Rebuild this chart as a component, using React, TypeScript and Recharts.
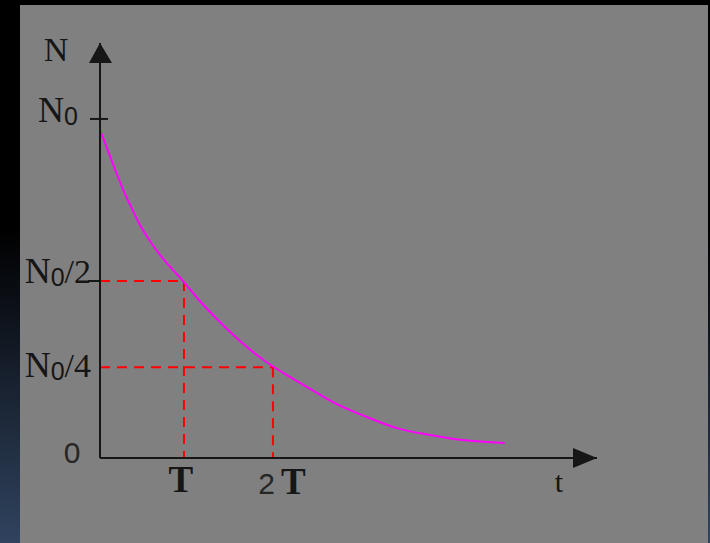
import React from 'react'
import {
  LineChart,
  Line,
  XAxis,
  YAxis,
  ReferenceLine,
  ReferenceDot
} from 'recharts'

// decay curve, t in units of T (approx), N in units of N0
const timeValues = [
  0, 0.095, 0.19, 0.286, 0.381, 0.476, 0.595, 0.714, 0.857, 1.0, 1.167, 1.405,
  1.667, 1.964, 2.262, 2.524, 2.774, 3.179, 3.536, 3.929, 4.321, 4.821
]
const countValues = [
  0.968, 0.906, 0.844, 0.785, 0.735, 0.687, 0.64, 0.599, 0.558, 0.519, 0.469,
  0.407, 0.345, 0.286, 0.239, 0.201, 0.165, 0.121, 0.088, 0.068, 0.053, 0.044
]

const halfLife = 1
const twoHalfLives = 2.06
const fullCount = 1
const halfCount = 0.522
const quarterCount = 0.268

const xTicks = [halfLife, twoHalfLives]
const yTicks = [0, quarterCount, halfCount, fullCount]
const xMax = 5.92
const yMax = 1.224

const data = timeValues.map((t, i) => ({ t, n: countValues[i] }))

const serif = '"Liberation Serif", serif'
const sans = '"Liberation Sans", sans-serif'
const ink = '#161616'

function NTick(props: any) {
  const { x, y, payload } = props
  const v = payload.value
  if (v === 0) {
    return (
      <text x={x - 28} y={y + 5} textAnchor="middle" fontFamily={sans} fontSize={30} fill="#262626">
        0
      </text>
    )
  }
  if (v === fullCount) {
    return (
      <g>
        <line x1={x - 10} x2={x + 8} y1={y} y2={y} stroke={ink} strokeWidth={2} />
        <text x={x - 22} y={y + 3} textAnchor="end" fill={ink}>
          <tspan fontFamily={serif} fontSize={36}>N</tspan>
          <tspan fontFamily={sans} fontSize={25} dy={3}>0</tspan>
        </text>
      </g>
    )
  }
  const suffix = v === halfCount ? '/2' : '/4'
  const base = v === halfCount ? 2 : 10
  return (
    <g>
      {v === halfCount && (
        <line x1={x - 12} x2={x} y1={y} y2={y} stroke={ink} strokeWidth={2} />
      )}
      <text x={x - 9} y={y + base} textAnchor="end" fill={ink}>
        <tspan fontFamily={serif} fontSize={36}>N</tspan>
        <tspan fontFamily={sans} fontSize={25} dy={3}>0</tspan>
        <tspan fontFamily={serif} fontSize={34} dy={-3}>{suffix}</tspan>
      </text>
    </g>
  )
}

function TTick(props: any) {
  const { x, y, payload } = props
  if (payload.value === halfLife) {
    return (
      <text x={x - 3} y={y + 34} textAnchor="middle" fontFamily={serif} fontWeight="bold" fontSize={37} fill={ink}>
        T
      </text>
    )
  }
  return (
    <text x={x + 9} y={y + 36} textAnchor="middle" fill={ink}>
      <tspan fontFamily={sans} fontSize={30} fill="#262626">2</tspan>
      <tspan fontFamily={serif} fontWeight="bold" fontSize={37} dx={6}>T</tspan>
    </text>
  )
}

const upArrow = (p: any) => (
  <polygon points={`${p.cx},${p.cy} ${p.cx - 11},${p.cy + 20} ${p.cx + 12},${p.cy + 20}`} fill={ink} />
)
const rightArrow = (p: any) => (
  <polygon points={`${p.cx},${p.cy} ${p.cx - 24},${p.cy - 10} ${p.cx - 24},${p.cy + 10}`} fill={ink} />
)

export default function App() {
  return (
    <div
      style={{
        position: 'fixed',
        left: 0,
        top: 0,
        width: 710,
        height: 543,
        background: 'linear-gradient(to bottom, #000 0%, #000 42%, #30435f 100%)'
      }}
    >
      <div style={{ position: 'absolute', left: 20, top: 5, width: 688, height: 538, background: '#808080' }} />
      <LineChart
        width={710}
        height={543}
        data={data}
        margin={{ top: 43, right: 113, bottom: 45, left: 20 }}
        style={{ position: 'absolute', left: 0, top: 0 }}
      >
        <XAxis
          type="number"
          dataKey="t"
          domain={[0, xMax]}
          ticks={xTicks}
          tick={TTick}
          tickLine={false}
          tickSize={0}
          tickMargin={0}
          height={40}
          axisLine={{ stroke: ink, strokeWidth: 2 }}
          allowDataOverflow
        />
        <YAxis
          type="number"
          domain={[0, yMax]}
          ticks={yTicks}
          tick={NTick}
          tickLine={false}
          tickSize={0}
          tickMargin={0}
          width={80}
          axisLine={{ stroke: ink, strokeWidth: 2 }}
          allowDataOverflow
        />
        <ReferenceLine
          segment={[{ x: 0, y: halfCount }, { x: halfLife, y: halfCount }]}
          stroke="#ff0000"
          strokeWidth={2}
          strokeDasharray="10 7"
        />
        <ReferenceLine
          segment={[{ x: halfLife, y: halfCount }, { x: halfLife, y: 0 }]}
          stroke="#ff0000"
          strokeWidth={2}
          strokeDasharray="10 7"
        />
        <ReferenceLine
          segment={[{ x: 0, y: quarterCount }, { x: twoHalfLives, y: quarterCount }]}
          stroke="#ff0000"
          strokeWidth={2}
          strokeDasharray="10 7"
        />
        <ReferenceLine
          segment={[{ x: twoHalfLives, y: quarterCount }, { x: twoHalfLives, y: 0 }]}
          stroke="#ff0000"
          strokeWidth={2}
          strokeDasharray="10 7"
        />
        <Line
          type="monotone"
          dataKey="n"
          stroke="#ff00ff"
          strokeWidth={2}
          dot={false}
          isAnimationActive={false}
        />
        <ReferenceDot x={0} y={yMax} ifOverflow="visible" shape={upArrow} />
        <ReferenceDot x={xMax} y={0} ifOverflow="visible" shape={rightArrow} />
        <text x={56} y={61} textAnchor="middle" fontFamily={serif} fontSize={34} fill={ink}>
          N
        </text>
        <text x={559} y={492} textAnchor="middle" fontFamily={serif} fontSize={30} fill={ink}>
          t
        </text>
      </LineChart>
    </div>
  )
}
